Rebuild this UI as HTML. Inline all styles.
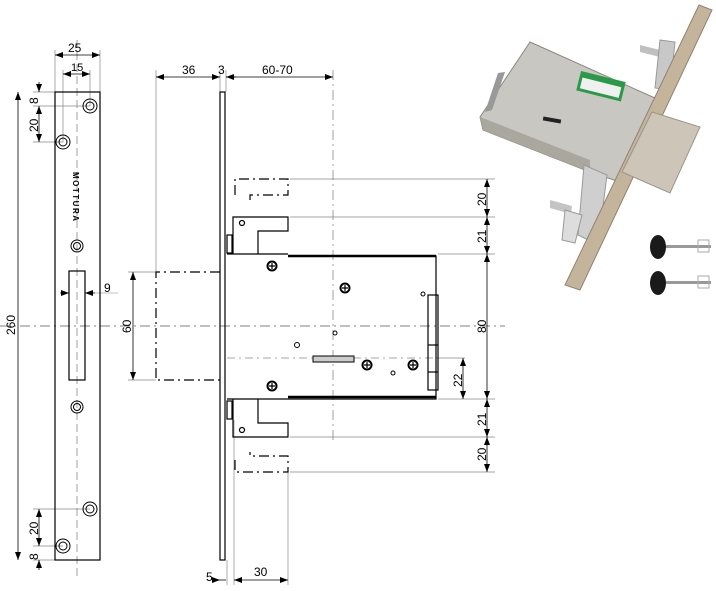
<!DOCTYPE html>
<html><head><meta charset="utf-8"><style>html,body{margin:0;padding:0;background:#fff}svg{display:block}</style></head>
<body>
<svg width="716" height="591" viewBox="0 0 716 591" xmlns="http://www.w3.org/2000/svg" font-family="Liberation Sans, sans-serif">
<defs>
<marker id="a" markerWidth="8" markerHeight="6" refX="8" refY="3" orient="auto-start-reverse" markerUnits="userSpaceOnUse"><path d="M0,0 L8,3 L0,6z" fill="#000"/></marker>
<g id="scr"><circle r="5.5" fill="#000"/><circle r="3.5" fill="#fff"/><path d="M-3,0H3M0,-3V3" stroke="#000" stroke-width="1.2"/></g>
</defs>
<g stroke="#888" stroke-width="0.7" fill="none">
<line x1="0" y1="326" x2="505" y2="326" stroke="#555" stroke-dasharray="10,4,2,4"/>
<line x1="77" y1="40" x2="77" y2="580" stroke="#777" stroke-dasharray="8,4"/>
<line x1="333" y1="70" x2="333" y2="440" stroke="#777" stroke-dasharray="10,4,2,4"/>
<line x1="156" y1="70" x2="156" y2="272"/>
<line x1="220" y1="70" x2="220" y2="92"/><line x1="226" y1="70" x2="226" y2="92"/>
<line x1="55" y1="50" x2="55" y2="92"/><line x1="100" y1="50" x2="100" y2="92"/>
<line x1="63" y1="70" x2="63" y2="142"/><line x1="90" y1="70" x2="90" y2="106"/>
<line x1="33" y1="92" x2="55" y2="92"/><line x1="33" y1="106" x2="90" y2="106"/><line x1="33" y1="142" x2="63" y2="142"/>
<line x1="33" y1="509" x2="90" y2="509"/><line x1="33" y1="546" x2="63" y2="546"/><line x1="33" y1="560" x2="55" y2="560"/>
<line x1="290" y1="179" x2="495" y2="179"/><line x1="290" y1="217" x2="495" y2="217"/>
<line x1="438" y1="254" x2="495" y2="254"/><line x1="438" y1="399" x2="495" y2="399"/>
<line x1="290" y1="437" x2="495" y2="437"/><line x1="290" y1="472" x2="495" y2="472"/>
<line x1="436" y1="358" x2="465" y2="358"/>
<line x1="128" y1="272" x2="156" y2="272"/><line x1="128" y1="380" x2="156" y2="380"/>
<line x1="234" y1="420" x2="234" y2="585"/><line x1="288" y1="472" x2="288" y2="585"/>
<line x1="227" y1="560" x2="227" y2="585"/>
<line x1="227" y1="358" x2="436" y2="358" stroke-dasharray="8,4,2,4"/>
</g>
<g stroke="#000" stroke-width="0.8" fill="none">
<line x1="55" y1="55" x2="100" y2="55" marker-start="url(#a)" marker-end="url(#a)"/>
<line x1="63" y1="74" x2="90" y2="74" marker-start="url(#a)" marker-end="url(#a)"/>
<line x1="18" y1="92" x2="18" y2="560" marker-start="url(#a)" marker-end="url(#a)"/>
<line x1="39" y1="82" x2="39" y2="92" marker-end="url(#a)"/><line x1="39" y1="106" x2="39" y2="142" marker-start="url(#a)" marker-end="url(#a)"/>
<line x1="39" y1="509" x2="39" y2="546" marker-start="url(#a)" marker-end="url(#a)"/><line x1="39" y1="570" x2="39" y2="560" marker-end="url(#a)"/>
<line x1="60" y1="293" x2="69" y2="293" marker-end="url(#a)"/><line x1="95" y1="293" x2="85" y2="293" marker-end="url(#a)"/><line x1="95" y1="293" x2="118" y2="293" stroke="#888" stroke-width=".6"/>
<line x1="156" y1="77" x2="220" y2="77" marker-start="url(#a)" marker-end="url(#a)"/>
<line x1="236" y1="77" x2="226" y2="77" marker-end="url(#a)"/>
<line x1="226" y1="77" x2="333" y2="77" marker-end="url(#a)"/>
<line x1="133" y1="272" x2="133" y2="380" marker-start="url(#a)" marker-end="url(#a)"/>
<line x1="487" y1="179" x2="487" y2="217" marker-start="url(#a)" marker-end="url(#a)"/>
<line x1="487" y1="217" x2="487" y2="254" marker-start="url(#a)" marker-end="url(#a)"/>
<line x1="487" y1="254" x2="487" y2="399" marker-start="url(#a)" marker-end="url(#a)"/>
<line x1="487" y1="399" x2="487" y2="437" marker-start="url(#a)" marker-end="url(#a)"/>
<line x1="487" y1="437" x2="487" y2="472" marker-start="url(#a)" marker-end="url(#a)"/>
<line x1="463" y1="358" x2="463" y2="399" marker-start="url(#a)" marker-end="url(#a)"/>
<line x1="212" y1="580" x2="220" y2="580" marker-end="url(#a)"/><line x1="226" y1="580" x2="220" y2="580"/>
<line x1="234" y1="580" x2="288" y2="580" marker-start="url(#a)" marker-end="url(#a)"/>
</g>
<g font-size="12" fill="#000">
<text x="68" y="52">25</text><text x="71" y="71" font-size="11">15</text>
<text x="182" y="74">36</text><text x="218" y="74">3</text><text x="262" y="74">60-70</text>
<text x="104" y="292">9</text><text x="206" y="581">5</text><text x="254" y="576">30</text>
<text transform="translate(15,335) rotate(-90)">260</text>
<text transform="translate(38,104) rotate(-90)">8</text><text transform="translate(38,132) rotate(-90)">20</text>
<text transform="translate(38,535) rotate(-90)">20</text><text transform="translate(38,560) rotate(-90)">8</text>
<text transform="translate(131,333) rotate(-90)">60</text>
<text transform="translate(486,206) rotate(-90)">20</text><text transform="translate(486,243) rotate(-90)">21</text>
<text transform="translate(486,333) rotate(-90)">80</text><text transform="translate(486,426) rotate(-90)">21</text>
<text transform="translate(486,461) rotate(-90)">20</text><text transform="translate(462,387) rotate(-90)">22</text>
<text transform="translate(73,172) rotate(90)" font-size="8" font-weight="bold" letter-spacing="1.5">MOTTURA</text>
</g>
<g stroke="#000" fill="none" stroke-width="1.2">
<rect x="55" y="92" width="45" height="468"/>
<rect x="69" y="271" width="16" height="109"/>
<g stroke-width="1"><circle cx="90" cy="106" r="7"/><circle cx="90" cy="106" r="4"/><circle cx="63" cy="142" r="7"/><circle cx="63" cy="142" r="4"/>
<circle cx="77" cy="246" r="6"/><circle cx="77" cy="246" r="3.5"/><circle cx="77" cy="407" r="6"/><circle cx="77" cy="407" r="3.5"/>
<circle cx="90" cy="509" r="7"/><circle cx="90" cy="509" r="4"/><circle cx="63" cy="546" r="7"/><circle cx="63" cy="546" r="4"/></g>
<rect x="220" y="92" width="5" height="468"/>
<path d="M220 272 H156 V380 H220" stroke-dasharray="10,4,2,4"/>
<path d="M227 254 H288 M288 256 H436 V399 H288 M288 399 H227 Z"/>
<line x1="288" y1="256" x2="436" y2="256" stroke-width="2.5"/><line x1="288" y1="397" x2="436" y2="397" stroke-width="2.5"/>
<rect x="428" y="295" width="10" height="95"/>
<line x1="428" y1="345" x2="438" y2="345"/><line x1="428" y1="372" x2="438" y2="372"/>
<path d="M233 254 V217 H288 V231 H258 V254"/>
<circle cx="242" cy="223" r="2.5"/>
<rect x="227" y="235" width="5" height="18"/>
<path d="M233 399 V437 H288 V423 H258 V399"/>
<circle cx="242" cy="430" r="2.5"/>
<rect x="227" y="401" width="5" height="18"/>
<path d="M235 195 V179 H288 V195 H250 V200" stroke-dasharray="10,4,2,4"/>
<path d="M235 460 V472 H288 V456 H250 V452" stroke-dasharray="10,4,2,4"/>
<path d="M313 356 H354 V362 H313 Z" stroke-width="1" fill="#ccc"/>
</g>
<use href="#scr" x="272" y="266"/><use href="#scr" x="345" y="288"/><use href="#scr" x="367" y="365"/><use href="#scr" x="413" y="365"/><use href="#scr" x="272" y="386"/>
<g stroke="#000" stroke-width="1" fill="none">
<circle cx="297" cy="345" r="2.5"/><circle cx="335" cy="333" r="2"/><circle cx="423" cy="294" r="2"/><circle cx="393" cy="373" r="2"/></g>
<!-- photo -->
<g>
<polygon points="530,42 655,98 620,182 590,172 483,130 480,117" fill="#c9c7c2" stroke="#8a877f"/>
<polygon points="480,117 590,160 590,172 483,130" fill="#aaa79f"/>
<polygon points="485,112 492,110 505,72 498,73" fill="#999"/>
<polygon points="640,45 660,50 660,57 640,52" fill="#c0c0c0"/>
<polygon points="660,40 675,42 670,90 655,88" fill="#c8c8c8" stroke="#999"/>
<polygon points="584,165 607,175 598,245 578,235" fill="#cfcfcf" stroke="#999"/>
<polygon points="550,200 572,206 571,214 550,208" fill="#c4c4c4"/>
<polygon points="565,210 582,215 575,243 562,240" fill="#ddd" stroke="#999"/>
<polygon points="699,5 712,10 580,290 565,285" fill="#c5b49c" stroke="#8f8270"/>
<polygon points="652,112 700,127 670,193 622,172" fill="#cdc6b8" stroke="#9a9488"/>
<g transform="rotate(14 600 86)"><rect x="578" y="76" width="46" height="20" fill="#2a9a48"/><rect x="581" y="82" width="40" height="11" fill="#f0f0f0"/></g>
<rect x="543" y="118" width="18" height="4" fill="#222" transform="rotate(10 552 120)"/>
<ellipse cx="658" cy="247" rx="8" ry="12" fill="#1a1a1a"/>
<rect x="666" y="245" width="45" height="3" fill="#999"/>
<rect x="698" y="240" width="11" height="12" fill="none" stroke="#aaa"/>
<ellipse cx="658" cy="283" rx="8" ry="12" fill="#1a1a1a"/>
<rect x="666" y="281" width="45" height="3" fill="#999"/>
<rect x="698" y="276" width="11" height="12" fill="none" stroke="#aaa"/>
</g>
</svg>
</body></html>
